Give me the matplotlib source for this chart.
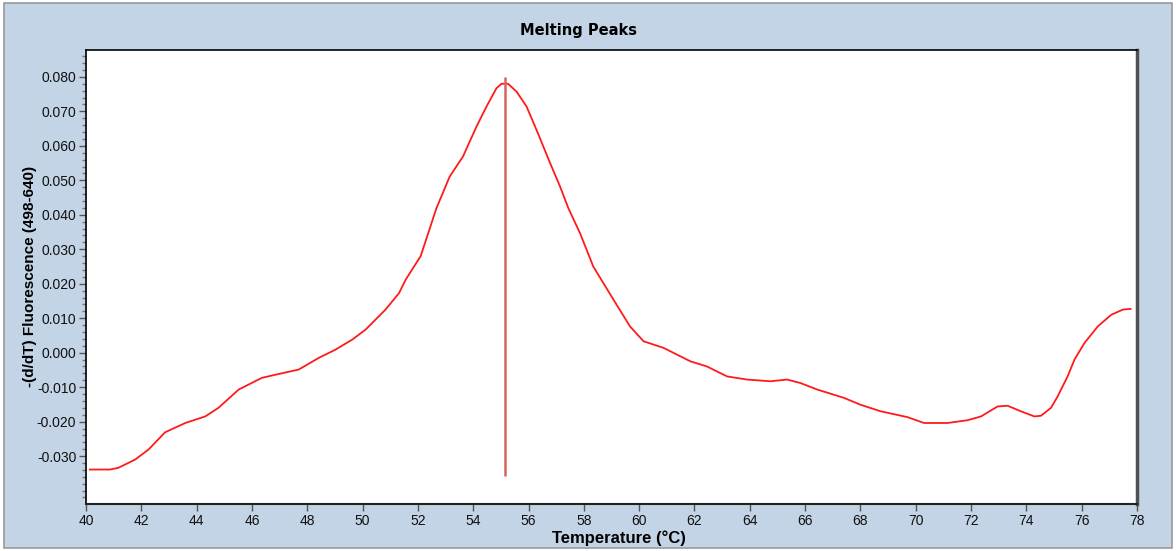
import matplotlib
matplotlib.use("Agg")
import matplotlib.pyplot as plt
from matplotlib.patches import Rectangle
from matplotlib.ticker import MultipleLocator, FormatStrFormatter

# ---- data ----
temperature = [40.14, 40.87, 41.17, 41.78, 42.26, 42.86, 43.59, 44.31, 44.79, 45.52,
               46.36, 46.85, 47.69, 48.42, 49.00, 49.63, 50.11, 50.83, 51.32, 51.56,
               52.10, 52.67, 53.15, 53.63, 54.12, 54.48, 54.84, 55.02, 55.26, 55.57,
               55.93, 56.29, 56.78, 57.14, 57.44, 57.86, 58.34, 59.07, 59.67, 60.16,
               60.88, 61.85, 62.45, 63.18, 63.90, 64.75, 65.35, 65.83, 66.44, 67.40,
               68.00, 68.73, 69.70, 70.30, 71.15, 71.87, 72.36, 72.96, 73.32, 73.80,
               74.29, 74.53, 74.89, 75.13, 75.49, 75.74, 76.10, 76.58, 77.07, 77.49,
               77.77]
neg_dfdt = [-0.0339, -0.0339, -0.0334, -0.0310, -0.0281, -0.0231, -0.0204, -0.0185, -0.0160, -0.0107,
            -0.0073, -0.0064, -0.0049, -0.0015, 0.0008, 0.0038, 0.0067, 0.0125, 0.0173, 0.0212,
            0.0280, 0.0419, 0.0511, 0.0569, 0.0656, 0.0714, 0.0767, 0.0780, 0.0780, 0.0757,
            0.0714, 0.0646, 0.0550, 0.0482, 0.0419, 0.0347, 0.0250, 0.0154, 0.0076, 0.0033,
            0.0014, -0.0025, -0.0040, -0.0069, -0.0078, -0.0083, -0.0078, -0.0088, -0.0107, -0.0131,
            -0.0151, -0.0170, -0.0187, -0.0204, -0.0204, -0.0196, -0.0185, -0.0156, -0.0154, -0.0170,
            -0.0185, -0.0183, -0.0160, -0.0127, -0.0069, -0.0020, 0.0028, 0.0076, 0.0110, 0.0125,
            0.0127]
peak_temp = 55.15
peak_line_range = [-0.0357, 0.0800]

x_ticks = list(range(40, 79, 2))
y_ticks = [-0.03, -0.02, -0.01, 0.0, 0.01, 0.02, 0.03, 0.04, 0.05, 0.06, 0.07, 0.08]

title = "Melting Peaks"
x_label = "Temperature (°C)"
y_label = "-(d/dT) Fluorescence (498-640)"

# ---- figure ----
W, H = 1176, 551
fig = plt.figure(figsize=(W / 100, H / 100), dpi=100, facecolor="white")
bg = "#C2D4E5"
fig.patches.append(Rectangle((4 / W, 3 / H), 1168 / W, 545 / H, transform=fig.transFigure,
                             facecolor=bg, edgecolor="#9A9A9A", linewidth=1.2, zorder=-10))

ax = fig.add_axes([86 / W, 1 - 504 / H, (1137 - 86) / W, (504 - 50) / H])
ax.set_facecolor("white")
ax.plot(temperature, neg_dfdt, color="#FF1A1A", linewidth=1.3, zorder=3)
ax.vlines(peak_temp, peak_line_range[0], peak_line_range[1], color="#D9645A", linewidth=1.8, zorder=4)

ax.set_xlim(40, 78)
ax.set_ylim(-0.0439, 0.0878)
ax.set_xticks(x_ticks)
ax.set_yticks(y_ticks)
ax.yaxis.set_major_formatter(FormatStrFormatter("%.3f"))
ax.yaxis.set_minor_locator(MultipleLocator(0.002))

fontname = "Liberation Sans"
for lab in ax.get_xticklabels() + ax.get_yticklabels():
    lab.set_fontfamily(fontname)
    lab.set_fontsize(10)
    lab.set_color("#111111")
ax.tick_params(axis="both", which="major", direction="out", length=5, width=1, color="#555555", pad=2)
ax.tick_params(axis="y", which="minor", direction="out", length=3, width=1, color="#777777")

for side in ["left", "top"]:
    ax.spines[side].set_color("black")
    ax.spines[side].set_linewidth(1.2)
ax.spines["bottom"].set_color("#222222")
ax.spines["bottom"].set_linewidth(1.5)
ax.spines["right"].set_color("#505050")
ax.spines["right"].set_linewidth(2.5)

fig.text(578 / W, 1 - 30 / H, title, ha="center", va="center", fontsize=10.5,
         fontweight="bold", family="DejaVu Sans", color="black")
fig.text(619 / W, 1 - 538 / H, x_label, ha="center", va="center", fontsize=12,
         fontweight="bold", family=fontname, color="black")
fig.text(30 / W, 1 - 276 / H, y_label, ha="center", va="center", fontsize=11,
         fontweight="bold", family=fontname, rotation=90, color="black")

fig.savefig("out.png", dpi=100, facecolor=fig.get_facecolor())
